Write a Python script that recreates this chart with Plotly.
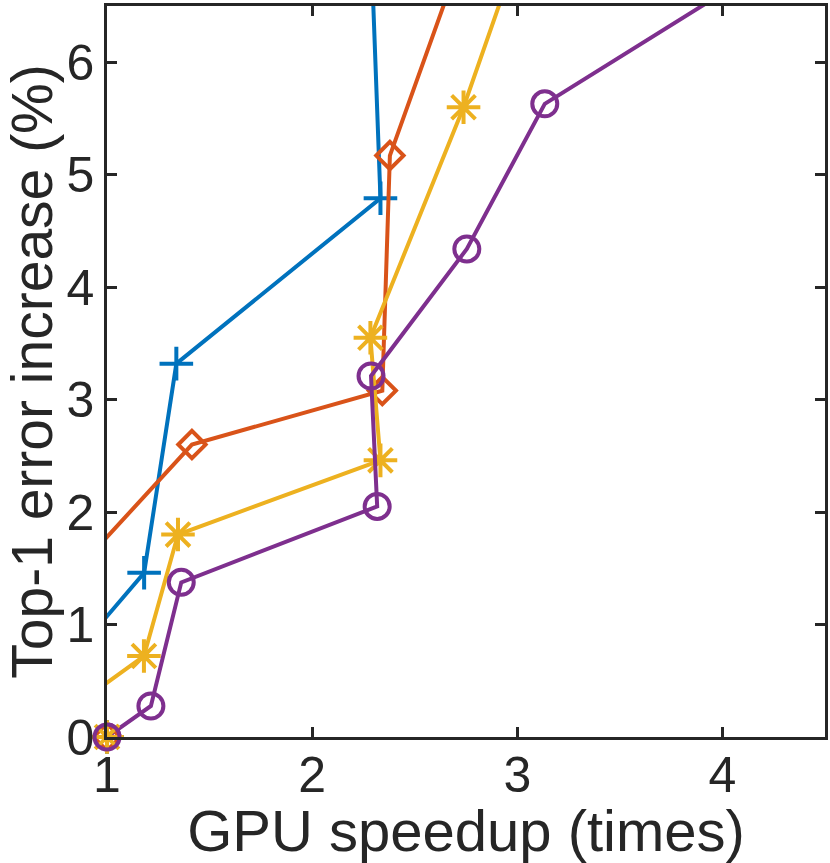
import plotly.graph_objects as go

# GPU speedup (x) vs top-1 error increase (y); first point of each series is the baseline (1, 0)
blue_x = [1.0, 0.90, 1.181, 1.338, 2.333, 2.28]
blue_y = [0.0, 0.86, 1.46, 3.32, 4.79, 7.40]

orange_x = [1.0, 0.90, 1.414, 2.342, 2.379, 2.75]
orange_y = [0.0, 1.58, 2.60, 3.08, 5.17, 7.06]

yellow_x = [1.0, 0.90, 1.180, 1.346, 2.333, 2.284, 2.738, 3.0]
yellow_y = [0.0, 0.35, 0.72, 1.80, 2.46, 3.55, 5.60, 6.97]

purple_x = [1.0, 1.214, 1.362, 2.317, 2.287, 2.754, 3.134, 4.3]
purple_y = [0.0, 0.276, 1.375, 2.05, 3.21, 4.34, 5.63, 6.955]

x_ticks = [1, 2, 3, 4]
y_ticks = [0, 1, 2, 3, 4, 5, 6]

series = [
    (blue_x, blue_y, 'rgb(0, 114, 189)', 'cross-thin-open', 24),
    (orange_x, orange_y, 'rgb(217, 83, 25)', 'diamond-open', 21),
    (yellow_x, yellow_y, 'rgb(237, 177, 32)', 'asterisk-open', 28),
    (purple_x, purple_y, 'rgb(126, 47, 142)', 'circle-open', 25),
]

fig = go.Figure()
for xs, ys, col, sym, sz in series:
    fig.add_trace(go.Scatter(
        x=xs, y=ys, mode='lines+markers',
        line=dict(color=col, width=4),
        marker=dict(symbol=sym, size=sz, color=col, line=dict(color=col, width=4)),
        cliponaxis=True,
    ))
# baseline markers drawn unclipped on top of the axis corner
for xs, ys, col, sym, sz in series:
    fig.add_trace(go.Scatter(
        x=xs[:1], y=ys[:1], mode='markers',
        marker=dict(symbol=sym, size=sz, color=col, line=dict(color=col, width=4)),
        cliponaxis=False,
    ))

axis_col = 'rgb(38, 38, 38)'
fig.update_layout(
    width=830, height=863,
    margin=dict(l=107, r=5, t=6, b=126),
    plot_bgcolor='white',
    paper_bgcolor='white',
    showlegend=False,
    font=dict(family='Liberation Sans', color=axis_col),
    xaxis=dict(
        range=[1, 4.5],
        tickvals=x_ticks,
        ticks='inside', ticklen=10, tickwidth=2.5, tickcolor=axis_col,
        showline=True, linecolor=axis_col, linewidth=2.5, mirror='ticks',
        showgrid=False, zeroline=False, automargin=False,
        ticklabelstandoff=-8,
        tickfont=dict(size=50, color=axis_col),
        title=dict(text='GPU speedup (times)', font=dict(size=58, color=axis_col), standoff=0),
    ),
    yaxis=dict(
        range=[0, 6.5],
        tickvals=y_ticks,
        ticks='inside', ticklen=10, tickwidth=2.5, tickcolor=axis_col,
        showline=True, linecolor=axis_col, linewidth=2.5, mirror='ticks',
        showgrid=False, zeroline=False, automargin=False,
        tickfont=dict(size=50, color=axis_col),
        title=dict(text='Top-1 error increase (%)', font=dict(size=57, color=axis_col), standoff=25),
    ),
)

# drop the default page margin so the figure sits at the window corner
fig.write_html("out.html", config={'displayModeBar': False},
               post_script="document.body.style.margin='0px';")
